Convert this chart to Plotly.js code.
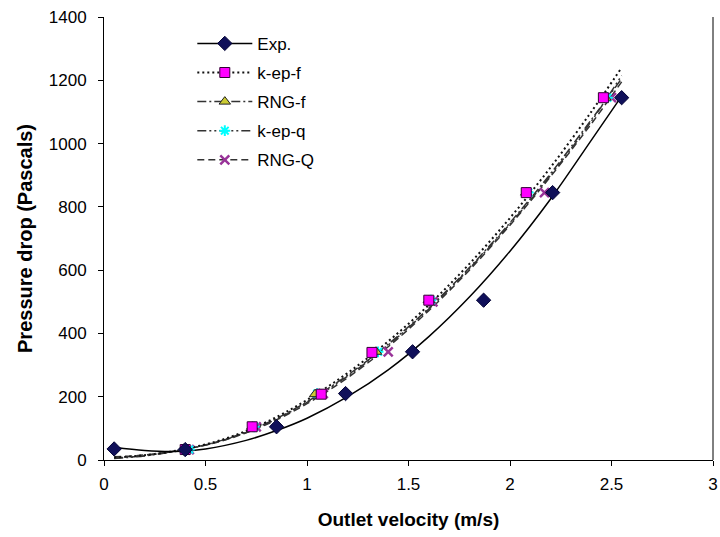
<!DOCTYPE html>
<html>
<head>
<meta charset="utf-8">
<script src="https://cdn.plot.ly/plotly-3.0.1.min.js"></script>
<style>html,body{margin:0;padding:0;background:#fff;}#chart{width:720px;height:537px;}</style>
</head>
<body>
<div id="chart"></div>
<script>
// Experimental data
const expX = [0.05, 0.40, 0.85, 1.19, 1.52, 1.87, 2.21, 2.55];
const expY = [35, 33, 105, 210, 342, 505, 845, 1145];
// Model data points
const kepfX = [0.40, 0.73, 1.07, 1.32, 1.60, 2.08, 2.46];
const kepfY = [33, 105, 208, 340, 505, 845, 1145];
const rngfX = [0.40, 0.73, 1.04, 1.34, 1.60, 2.08, 2.47];
const rngfY = [33, 105, 208, 342, 505, 845, 1145];
const kepqX = [0.42, 0.74, 1.05, 1.35, 1.61, 2.09, 2.48];
const kepqY = [33, 105, 210, 342, 505, 845, 1145];
const rngqX = [0.42, 0.75, 1.08, 1.40, 1.62, 2.17, 2.50];
const rngqY = [33, 105, 210, 342, 500, 845, 1145];
// Trendlines
const expTrendX = [0.05, 0.2, 0.35, 0.5, 0.7, 0.85, 1.0, 1.2, 1.4, 1.6, 1.8, 2.0, 2.2, 2.4, 2.55];
const expTrendY = [40, 30, 27, 35, 62, 93, 132, 200, 285, 390, 515, 660, 825, 1010, 1150];
const modTrendX = [0.05, 0.2, 0.4, 0.6, 0.8, 1.0, 1.2, 1.4, 1.6, 1.8, 2.0, 2.2, 2.4, 2.55];
const kepfTrendY = [8, 15, 35, 68, 120, 190, 275, 375, 490, 620, 765, 925, 1100, 1240];
const rngfTrendY = [6, 14, 34, 66, 116, 184, 268, 366, 480, 608, 750, 905, 1075, 1205];
const kepqTrendY = [5, 13, 33, 65, 114, 182, 265, 363, 477, 605, 746, 900, 1070, 1215];
const rngqTrendY = [10, 16, 34, 64, 112, 178, 260, 358, 472, 600, 742, 896, 1062, 1195];
const names = ['Exp.', 'k-ep-f', 'RNG-f', 'k-ep-q', 'RNG-Q'];

const lineStyles = [
  {color: '#000000', width: 1.5, dash: 'solid'},
  {color: '#111111', width: 2, dash: '2px,3px'},
  {color: '#333333', width: 1.5, dash: '9px,3px,2px,3px'},
  {color: '#333333', width: 1.5, dash: '9px,3px,2px,3px,2px,3px'},
  {color: '#333333', width: 1.5, dash: '7px,4px'}
];
const markers = [
  {symbol: 'diamond', size: 11, color: '#10105a', line: {color: '#000033', width: 1}},
  {symbol: 'square', size: 10, color: '#ff00ff', line: {color: '#330033', width: 1}},
  {symbol: 'triangle-up', size: 10, color: '#cccc33', line: {color: '#222222', width: 1}},
  {symbol: 'asterisk-open', size: 9, color: '#00ffff', line: {color: '#00e0e0', width: 2}},
  {symbol: 'x-thin-open', size: 9, color: '#993399', line: {color: '#993399', width: 2.5}}
];

const ptsX = [expX, kepfX, rngfX, kepqX, rngqX];
const ptsY = [expY, kepfY, rngfY, kepqY, rngqY];
const trX = [expTrendX, modTrendX, modTrendX, modTrendX, modTrendX];
const trY = [expTrendY, kepfTrendY, rngfTrendY, kepqTrendY, rngqTrendY];

const traces = [];
for (let i = 4; i >= 0; i--) {
  traces.push({x: trX[i], y: trY[i], mode: 'lines', line: Object.assign({shape: 'spline'}, lineStyles[i]), showlegend: false, hoverinfo: 'skip'});
}
for (let i = 4; i >= 0; i--) {
  traces.push({x: ptsX[i], y: ptsY[i], mode: 'markers', marker: markers[i], showlegend: false});
}
for (let i = 0; i < 5; i++) {
  traces.push({x: [null], y: [null], mode: 'lines+markers', name: names[i], legendgroup: 'g' + i,
    line: lineStyles[i], marker: markers[i], showlegend: true});
}

const fam = 'Liberation Sans, Arial, sans-serif';
const tickFont = {family: fam, size: 17, color: '#000'};
const layout = {
  width: 720, height: 537,
  margin: {l: 104, r: 7, t: 17, b: 77},
  paper_bgcolor: '#fff', plot_bgcolor: '#fff',
  font: {family: fam, size: 17, color: '#000'},
  showlegend: true,
  legend: {x: 0.145, y: 0.98, xanchor: 'left', yanchor: 'top', bgcolor: 'rgba(0,0,0,0)',
    font: {family: fam, size: 17, color: '#000'},
    traceorder: 'grouped', tracegroupgap: 4, itemwidth: 55},
  xaxis: {range: [0, 3], dtick: 0.5, tick0: 0, showgrid: false, zeroline: false,
    showline: true, linecolor: '#000', linewidth: 1, ticks: 'outside', ticklen: 5, tickcolor: '#000',
    tickfont: tickFont, ticklabelstandoff: 4,
    title: {text: '<b>Outlet velocity (m/s)</b>', font: {family: fam, size: 19, color: '#000'}, standoff: 19}},
  yaxis: {range: [0, 1400], dtick: 200, tick0: 0, showgrid: false, zeroline: false,
    showline: true, linecolor: '#000', linewidth: 1, ticks: 'outside', ticklen: 5, tickcolor: '#000',
    tickfont: tickFont, ticklabelstandoff: 8,
    title: {text: '<b>Pressure drop (Pascals)</b>', font: {family: fam, size: 20, color: '#000'}, standoff: 10}},
  shapes: [{type: 'line', xref: 'paper', yref: 'paper', x0: 1, x1: 1, y0: 0, y1: 1, line: {color: '#000', width: 1}}]
};
Plotly.newPlot('chart', traces, layout, {displayModeBar: false, staticPlot: true});
</script>
</body>
</html>
